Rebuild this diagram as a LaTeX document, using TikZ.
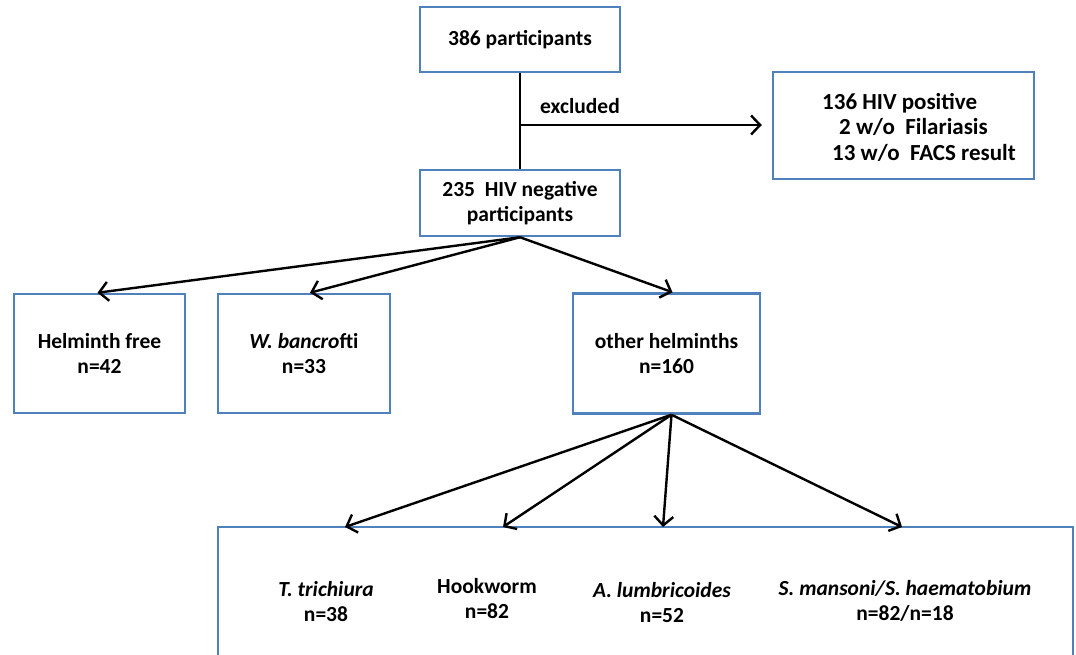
\documentclass[tikz,border=0pt]{standalone}
\usepackage{fontspec}
\setmainfont{Carlito}
\usetikzlibrary{arrows.meta}
\definecolor{boxblue}{RGB}{79,129,189}
\begin{document}
\begin{tikzpicture}[x=1pt,y=-1pt,
  txt/.style={align=center,font=\fontsize{21.5}{25}\selectfont\bfseries,inner sep=0pt},
  bigtxt/.style={txt,font=\fontsize{23}{25.5}\selectfont\bfseries},
  box/.style={txt,draw=boxblue,line width=2.5pt},
  conn/.style={line width=2.4pt,draw=black},
  arr/.style={conn,-{Straight Barb[length=9pt,width=19pt]}}]
\useasboundingbox (0,0) rectangle (1076,655);
\clip (0,0) rectangle (1076,655);
\fill[white] (0,0) rectangle (1076,655);
% boxes
\node[box,minimum width=200pt,minimum height=65pt] (p386) at (520,39.5) {386 participants};
\node[box,minimum width=261pt,minimum height=107pt] (excl) at (903.5,125.5) {};
\node[bigtxt,anchor=west,align=left] (exclt) at (822,127) {136 HIV positive\\\hspace{17pt}2 w/o\ \ Filariasis\\\hspace{10pt}13 w/o\ \ FACS result};
\node[box,minimum width=200pt,minimum height=66pt] (p235) at (520,203) {235\ \ HIV negative\\participants};
\node[box,minimum width=171pt,minimum height=119pt] (hf) at (99.5,353.5) {Helminth free\\n=42};
\node[box,minimum width=172pt,minimum height=119pt] (wb) at (304,353.5) {\textit{W. bancro}fti\\n=33};
\node[box,minimum width=187pt,minimum height=120pt] (oh) at (666.5,353.5) {other helminths\\n=160};
\node[box,minimum width=855pt,minimum height=150pt] (bot) at (645.5,602) {};
% bottom texts
\node[txt] (tt) at (326,602) {\textit{T. trichiura}\\n=38};
\node[txt] (hw) at (487,599) {Hookworm\\n=82};
\node[txt] (al) at (662,603) {\textit{A. lumbricoides}\\n=52};
\node[txt] (sm) at (905,601) {\textit{S. mansoni/S. haematobium}\\n=82/n=18};
% connectors
\coordinate (brk) at (520,125);
\draw[conn] (p386.south) -- (p235.north);
\draw[arr,shorten >=10pt] (brk) -- (excl.west |- brk);
\node[txt,anchor=west] (exlab) at (540,106) {excluded};
\draw[arr] (p235.south) -- ([xshift=-2pt]hf.north);
\draw[arr] (p235.south) -- ([xshift=6pt]wb.north);
\draw[arr] (p235.south) -- ([xshift=6pt]oh.north);
\coordinate (ohb) at ([xshift=5pt]oh.south);
\coordinate (t1) at (345,527);
\coordinate (t2) at (503,527);
\coordinate (t3) at (663,527);
\coordinate (t4) at (902,527);
\draw[arr] (ohb) -- (t1);
\draw[arr] (ohb) -- (t2);
\draw[arr] (ohb) -- (t3);
\draw[arr] (ohb) -- (t4);
\end{tikzpicture}
\end{document}
